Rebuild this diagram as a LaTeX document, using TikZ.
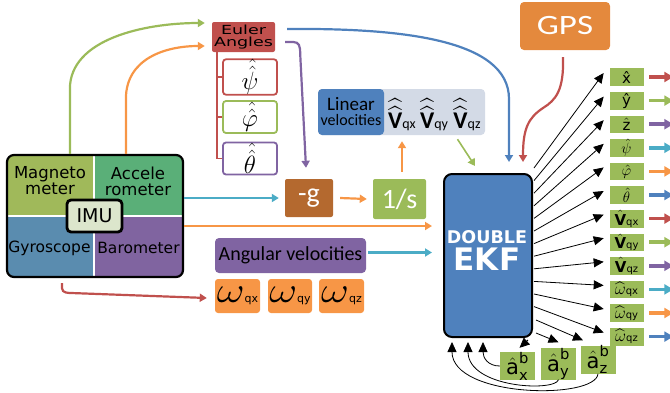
\RequirePackage{fix-cm}
\documentclass[tikz,border=0pt]{standalone}
\usepackage{amsmath}
\usepackage{fontspec}
\usetikzlibrary{arrows.meta,calc}
\newfontfamily\fdv{DejaVu Sans}
\newfontfamily\fdvw[FakeStretch=1.4]{DejaVu Sans}
\newfontfamily\fcb{Carlito}
\newfontfamily\fcbw[FakeStretch=1.25]{Carlito}
\definecolor{cred}{HTML}{C0504D}
\definecolor{cgreen}{HTML}{9BBB59}
\definecolor{cpurple}{HTML}{8064A2}
\definecolor{ccyan}{HTML}{4BACC6}
\definecolor{corange}{HTML}{F79646}
\definecolor{cblue}{HTML}{4F81BD}
\definecolor{cbrown}{HTML}{B4692F}
\definecolor{cgps}{HTML}{E4893D}
\definecolor{clinbg}{HTML}{D3DAE6}
\definecolor{cmag}{HTML}{A0B95A}
\definecolor{cacc}{HTML}{5AAF78}
\definecolor{cgyr}{HTML}{5A8CAF}
\definecolor{cbar}{HTML}{8064A0}
\definecolor{cimu}{HTML}{DCE6CC}
\newcommand\vq[1]{$\widehat{\widehat{\text{\bfseries V}}}$\fontsize{14}{14}\selectfont #1}
\newcommand\om[1]{{\fontsize{36}{36}\selectfont\scalebox{1.2}[1]{$\omega$}}{\fdv\fontsize{11}{11}\selectfont #1}}
\newcommand\ov[1]{$\hat{\text{\bfseries V}}$\fontsize{10}{10}\selectfont #1}
\newcommand\ow[1]{{\fontsize{17}{17}\selectfont$\widehat{\omega}$}\fontsize{10}{10}\selectfont #1}
\newcommand\ab[1]{$\hat{\text{a}}^{\text{b}}_{\text{#1}}$}
\begin{document}
\begin{tikzpicture}[x=1pt,y=-1pt,
  arr/.style={line width=2.2pt,-{Triangle[length=7pt,width=8pt]}},
  blk/.style={line width=0.8pt,-{Triangle[length=10pt,width=9pt]}},
  quadtxt/.style={font=\fdv\fontsize{16.5}{16}\selectfont, align=center, inner sep=0pt},
  anglebox/.style={draw=#1, line width=1.8pt, fill=white, rounded corners=3pt, minimum width=54pt, minimum height=32pt, inner sep=0pt, font=\fontsize{25}{25}\selectfont},
  omb/.style={fill=corange, rounded corners=3pt, minimum width=45pt, minimum height=34pt, inner sep=0pt},
  outb/.style={fill=cgreen, draw=white, line width=0.6pt, minimum width=35pt, minimum height=18.5pt, inner sep=0pt, font=\fdv\fontsize{15}{15}\selectfont},
  ab/.style={fill=cgreen, minimum width=35pt, minimum height=18.5pt, inner sep=0pt, font=\fdv\fontsize{21}{21}\selectfont},
  outa/.style={line width=3.5pt,-{Triangle[length=9pt,width=10pt]}},
]
\useasboundingbox (0,0) rectangle (670,392);

% ---------- IMU ----------
\begin{scope}
\clip[rounded corners=7pt] (7,155) rectangle (183,277);
\fill[cmag] (7,155) rectangle (94,216);
\fill[cacc] (94,155) rectangle (183,216);
\fill[cgyr] (7,216) rectangle (94,277);
\fill[cbar] (94,216) rectangle (183,277);
\draw[white, line width=1.5pt] (94,155) -- (94,277) (7,216) -- (183,216);
\end{scope}
\node[quadtxt] (magt) at (50,181) {Magneto\\meter};
\node[quadtxt] (acct) at (138,181) {Accele\\rometer};
\node[quadtxt, font=\fdv\fontsize{15.5}{16}\selectfont] (gyrt) at (49.5,248) {Gyroscope};
\node[quadtxt, font=\fdv\fontsize{15.5}{16}\selectfont] (bart) at (138.5,248) {Barometer};
\node[draw, line width=2.2pt, rounded corners=7pt, minimum width=176pt, minimum height=122pt] (imu) at (95,216) {};
\node[draw, line width=2.8pt, fill=cimu, rounded corners=4pt, minimum width=55pt, minimum height=32pt, font=\fdv\fontsize{19}{19}\selectfont] (imul) at (94.5,216) {IMU};

% ---------- Euler angles ----------
\node[fill=cred, rounded corners=2pt, minimum width=63pt, minimum height=30pt, inner sep=0pt, align=center, font=\fdvw\fontsize{12.5}{12.5}\selectfont] (euler) at (243.5,37) {Euler\\Angles};
\node[anglebox=cred] (psi) at (250,77) {$\hat{\hat{\psi}}$};
\node[anglebox=cgreen] (phi) at (250,117) {$\hat{\hat{\varphi}}$};
\node[anglebox=cpurple] (tht) at (250,158.5) {$\hat{\hat{\theta}}$};
\draw[cred, line width=1.8pt] ($(euler.south west)+(5,0)$) |- (tht.west);
\draw[cred, line width=1.8pt] ($(euler.south west)+(5,0)$) |- (psi.west);
\draw[cred, line width=1.8pt] ($(euler.south west)+(5,0)$) |- (phi.west);

% ---------- -g and 1/s ----------
\node[fill=cbrown, rounded corners=2pt, minimum width=48pt, minimum height=38pt, inner sep=0pt, text=white, font=\fcb\fontsize{28}{28}\selectfont] (mg) at (309,198) {-g};
\node[fill=cgreen, rounded corners=2pt, minimum width=53pt, minimum height=40pt, inner sep=0pt, text=white, font=\fcb\fontsize{28}{28}\selectfont] (ones) at (399.5,199) {1/s};

% ---------- Linear velocities ----------
\node[fill=clinbg, rounded corners=4pt, minimum width=167pt, minimum height=46pt] (linbg) at (401.5,112) {};
\node[fill=cblue, rounded corners=4pt, minimum width=66pt, minimum height=46pt, inner sep=0pt, align=center, font=\fcb\fontsize{19}{15}\selectfont] (lin) at (351,112) {Linear\\{\fontsize{16}{16}\selectfont velocities}};
\node[inner sep=0pt, font=\fcb\fontsize{24}{24}\selectfont] (vqx) at (402,115) {\vq{qx}};
\node[inner sep=0pt, font=\fcb\fontsize{24}{24}\selectfont] (vqy) at (434,115) {\vq{qy}};
\node[inner sep=0pt, font=\fcb\fontsize{24}{24}\selectfont] (vqz) at (467,115) {\vq{qz}};

% ---------- Angular velocities ----------
\node[fill=cpurple, rounded corners=4pt, minimum width=151pt, minimum height=35pt, inner sep=0pt, font=\fcb\fontsize{20}{20}\selectfont] (ang) at (290.5,255.5) {Angular velocities};
\node[omb] (w1) at (237.5,296) {\om{qx}};
\node[omb, minimum width=44pt] (w2) at (290,296) {\om{qy}};
\node[omb] (w3) at (341.5,296) {\om{qz}};

% ---------- EKF and GPS ----------
\node[fill=cblue, draw, line width=2pt, rounded corners=8pt, minimum width=88pt, minimum height=163pt] (ekf) at (488,255.5) {};
\node[text=white, inner sep=0pt, font=\fdv\bfseries\fontsize{17.5}{17.5}\selectfont] (ekfa) at (487,237) {DOUBLE};
\node[text=white, inner sep=0pt, font=\fdv\bfseries\fontsize{31}{31}\selectfont] (ekfb) at (487,259) {EKF};
\node[fill=cgps, rounded corners=4pt, minimum width=90pt, minimum height=48pt, inner sep=0pt, text=white, font=\fcbw\fontsize{28}{28}\selectfont] (gps) at (565,26) {GPS};

% ---------- outputs ----------
\foreach \i/\lab/\col in {
  1/{\^x}/cred, 2/{\^y}/cgreen, 3/{$\hat{\text{z}}$}/cpurple,
  4/{$\hat{\psi}$}/ccyan, 5/{$\hat{\varphi}$}/corange, 6/{$\hat{\theta}$}/cblue,
  7/{\ov{qx}}/cred, 8/{\ov{qy}}/cgreen, 9/{\ov{qz}}/cpurple,
  10/{\ow{qx}}/ccyan, 11/{\ow{qy}}/corange, 12/{\ow{qz}}/cblue}{
  \node[outb] (o\i) at (626.5,{77+23.6*(\i-1)}) {\lab};
  \draw[outa, \col] ($(o\i.east)+(5,0)$) -- ++(24,0);
  \draw[blk] ($(ekf.north east)+(1,{12.6*\i-17.6})$) -- ($(o\i.west)+(-5,-4)$);
}
\node[ab] (ax) at (517.5,366) {\ab{x}};
\node[ab] (ay) at (558.5,364) {\ab{y}};
\node[ab] (az) at (598,359.5) {\ab{z}};
\draw[blk] ($(ekf.south east)+(3,-18)$) -- ($(az.north)+(-15,-5)$);
\draw[blk] ($(ekf.south east)+(3,-5)$) -- ($(ay.north)+(0,-6)$);
\draw[blk] ($(ekf.south east)+(-5,2)$) -- ($(ax.north)+(2,-4)$);
\draw[blk] (ax.west) .. controls (488,366) and (483,358) .. ($(ekf.south)+(-5,4)$);
\draw[blk] (ay.south) .. controls (555,392) and (468,388) .. ($(ekf.south)+(-20,4)$);
\draw[blk] (az.south) .. controls (596,400) and (452,398) .. ($(ekf.south)+(-36,4)$);

% ---------- coloured connectors ----------
\draw[arr, cgreen] ($(imu.north west)+(64,0)$) -- ++(0,-65) .. controls +(0,-50) and +(-60,0) .. ($(euler.west)+(-7,-14)$);
\draw[arr, corange] ($(imu.north west)+(120,0)$) -- ++(0,-55) .. controls +(0,-40) and +(-40,0) .. ($(euler.west)+(-7,9)$);
\draw[arr, cpurple] ($(euler.east)+(10,5)$) -- ++(8,0) .. controls +(6,0) and +(0,-8) .. ++(7,12) -- ($(mg.north)+(-3,-11)$);
\draw[arr, cblue] ($(euler.east)+(12,-8)$) .. controls (400,28) and ($(ekf.north)+(21,-134)$) .. ($(ekf.north)+(21,-74)$) -- ($(ekf.north)+(21,-11)$);
\draw[arr, cred] ($(gps.south)+(-2,7)$) .. controls (564,90) and (556,100) .. (543,108) .. controls (528,118) and ($(ekf.north)+(35,-44)$) .. ($(ekf.north)+(35,-11)$);
\draw[arr, ccyan] (imu.east |- mg.west) -- ($(mg.west)+(-6,0)$);
\draw[arr, corange] ($(mg.east)+(7,0)$) -- ($(ones.west)+(-6,0)$);
\draw[arr, corange] ($(ones.north)+(2.5,-7)$) -- ($(linbg.south)+(0.5,6)$);
\draw[arr, cgreen, line width=1.6pt] ($(linbg.south)+(56,4)$) -- ($(ekf.north)+(-13,-7)$);
\draw[arr, corange] ($(imu.east)+(0,10)$) -- ($(ekf.west |- imu.east)+(-11,10)$);
\draw[arr, ccyan] ($(ang.east)+(2,-3)$) -- ($(ekf.west |- ang.east)+(-11,-3)$);
\draw[arr, cred] ($(imu.south)+(-33,5)$) -- ++(0,5) .. controls +(0,5) and +(-6,0) .. ++(12,5) -- ($(w1.west)+(-8,2)$);
\end{tikzpicture}
\end{document}
